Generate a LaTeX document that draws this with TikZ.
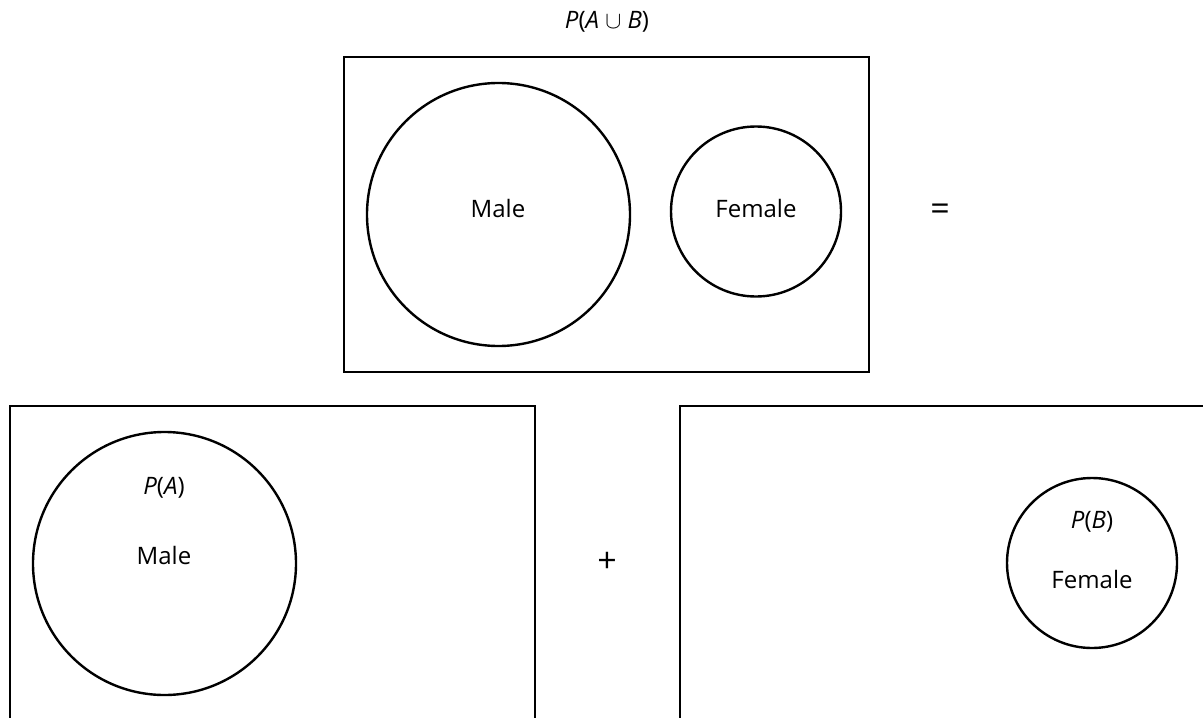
\documentclass[tikz,border=0pt]{standalone}
\usepackage{fontspec}
\setmainfont{Open Sans}
\usepackage{tikz}

\begin{document}
\begin{tikzpicture}[x=0.5pt, y=-0.5pt,
    every node/.style={font=\fontsize{12}{14}\selectfont},
    panel/.style={draw, line width=1.2pt, minimum width=262.5pt, minimum height=157.5pt, inner sep=0pt},
    bigset/.style={draw, circle, line width=1.2pt, minimum size=131.5pt, inner sep=0pt},
    smallset/.style={draw, circle, line width=1.2pt, minimum size=85pt, inner sep=0pt}]
  \useasboundingbox (0,0) rectangle (1203,717);
  \clip (0,0) rectangle (1203,717);
  % top: the union
  \node at (607,22) (title) {\textit{P}(\textit{A} $\cup$ \textit{B})};
  \node[panel] at (606.5,214.5) (union) {};
  \node[bigset] at (498.5,214.5) (male) {};
  \node at (498,208) (maletxt) {Male};
  \node[smallset] at (756,211.5) (female) {};
  \node at (756,208) (femaletxt) {Female};
  \node at (940,212) (eq) {\fontsize{17}{20}\selectfont =};
  % bottom: the two parts
  \node[panel] at (272.5,563.5) (left) {};
  \node[bigset] at (164.5,563.5) (maleA) {};
  \node at (164,488) (pa) {\textit{P}(\textit{A})};
  \node at (164,555) (maleAtxt) {Male};
  \node at (607,562) (plus) {\fontsize{17}{20}\selectfont +};
  \node[panel] at (942.5,563.5) (right) {};
  \node[smallset] at (1092,563) (femaleB) {};
  \node at (1092,522) (pb) {\textit{P}(\textit{B})};
  \node at (1092,579) (femaleBtxt) {Female};
\end{tikzpicture}
\end{document}
